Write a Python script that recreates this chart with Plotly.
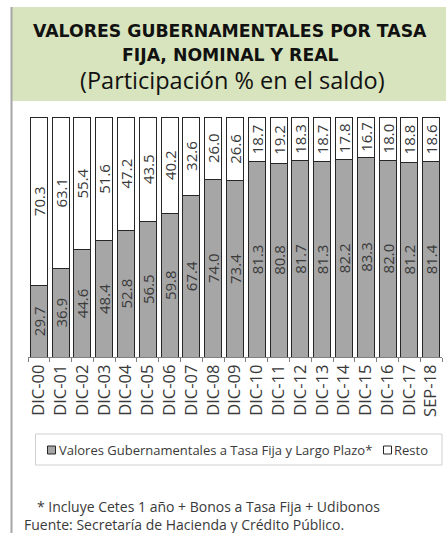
import plotly.graph_objects as go

categorias = ["DIC-00", "DIC-01", "DIC-02", "DIC-03", "DIC-04", "DIC-05", "DIC-06",
              "DIC-07", "DIC-08", "DIC-09", "DIC-10", "DIC-11", "DIC-12", "DIC-13",
              "DIC-14", "DIC-15", "DIC-16", "DIC-17", "SEP-18"]
tasa_fija = [29.7, 36.9, 44.6, 48.4, 52.8, 56.5, 59.8, 67.4, 74.0, 73.4,
             81.3, 80.8, 81.7, 81.3, 82.2, 83.3, 82.0, 81.2, 81.4]
resto = [70.3, 63.1, 55.4, 51.6, 47.2, 43.5, 40.2, 32.6, 26.0, 26.6,
         18.7, 19.2, 18.3, 18.7, 17.8, 16.7, 18.0, 18.8, 18.6]

serie_1 = "Valores Gubernamentales a Tasa Fija y Largo Plazo*"
serie_2 = "Resto"

W, H = 446, 533
ML, MR, MT, MB = 28, 4, 117, 176
PW, PH = W - ML - MR, H - MT - MB


# pixel -> paper coordinates
def px(x):
    return (x - ML) / PW


def py(y):
    return (H - MB - y) / PH


GRIS = "#a6a6a6"
TEXTO = "#3a3a3a"
FONT = "Open Sans"

fig = go.Figure()
for nombre, valores, color in [(serie_1, tasa_fija, GRIS), (serie_2, resto, "white")]:
    fig.add_trace(go.Bar(
        x=categorias, y=valores, name=nombre,
        marker=dict(color=color, line=dict(color="#262626", width=1)),
        text=[f"{v:.1f}" for v in valores],
        textposition="inside", insidetextanchor="middle", textangle=-90,
        constraintext="none",
        textfont=dict(family=FONT, size=15, color=TEXTO),
        showlegend=False,
    ))

shapes = [
    # green header band
    dict(type="rect", xref="paper", yref="paper", x0=px(12), x1=px(446), y0=py(7), y1=py(101),
         fillcolor="#d8e4bd", line_width=0, layer="below"),
    # left border line
    dict(type="line", xref="paper", yref="paper", x0=px(11.5), x1=px(11.5), y0=py(7), y1=py(533),
         line=dict(color="#a6a6a6", width=2)),
    # legend box
    dict(type="rect", xref="paper", yref="paper", x0=px(35.5), x1=px(442), y0=py(434), y1=py(465),
         line=dict(color="#d0d0d0", width=1), fillcolor="white"),
    dict(type="rect", xref="paper", yref="paper", x0=px(47.5), x1=px(55.5), y0=py(446), y1=py(454),
         line=dict(color="#262626", width=1), fillcolor=GRIS),
    dict(type="rect", xref="paper", yref="paper", x0=px(383.5), x1=px(391.5), y0=py(446), y1=py(454),
         line=dict(color="#262626", width=1), fillcolor="white"),
]


def nota(texto, x, y, size, anchor="left", bold=False, color=TEXTO, family=FONT):
    return dict(text=f"<b>{texto}</b>" if bold else texto, xref="paper", yref="paper",
                x=px(x), y=py(y), xanchor=anchor, yanchor="middle", showarrow=False,
                font=dict(family=family, size=size, color=color))


annotations = [
    nota("VALORES GUBERNAMENTALES POR TASA", 230, 31, 17.3, "center", True, "#111111", "DejaVu Sans"),
    nota("FIJA, NOMINAL Y REAL", 230, 55, 17.3, "center", True, "#111111", "DejaVu Sans"),
    nota("(Participación % en el saldo)", 232, 80, 23.5, "center", False, "#111111"),
    nota(serie_1, 57, 450, 13),
    nota(serie_2, 392, 450, 13),
    nota("* Incluye Cetes 1 año + Bonos a Tasa Fija + Udibonos", 35, 506, 14),
    nota("Fuente: Secretaría de Hacienda y Crédito Público.", 22, 524, 14),
]

fig.update_layout(
    width=W, height=H, margin=dict(l=ML, r=MR, t=MT, b=MB),
    barmode="stack", bargap=0.22,
    plot_bgcolor="white", paper_bgcolor="white",
    shapes=shapes, annotations=annotations,
    xaxis=dict(tickangle=-90, tickson="boundaries", ticks="outside", ticklen=4,
               tickcolor="#808080", showline=True, linecolor="#808080", linewidth=1,
               tickfont=dict(family=FONT, size=16.5, color=TEXTO), showgrid=False),
    yaxis=dict(range=[0, 100], visible=False, showgrid=False),
)

fig.write_html("out.html", config={"displayModeBar": False},
               post_script="document.body.style.margin='0';")
